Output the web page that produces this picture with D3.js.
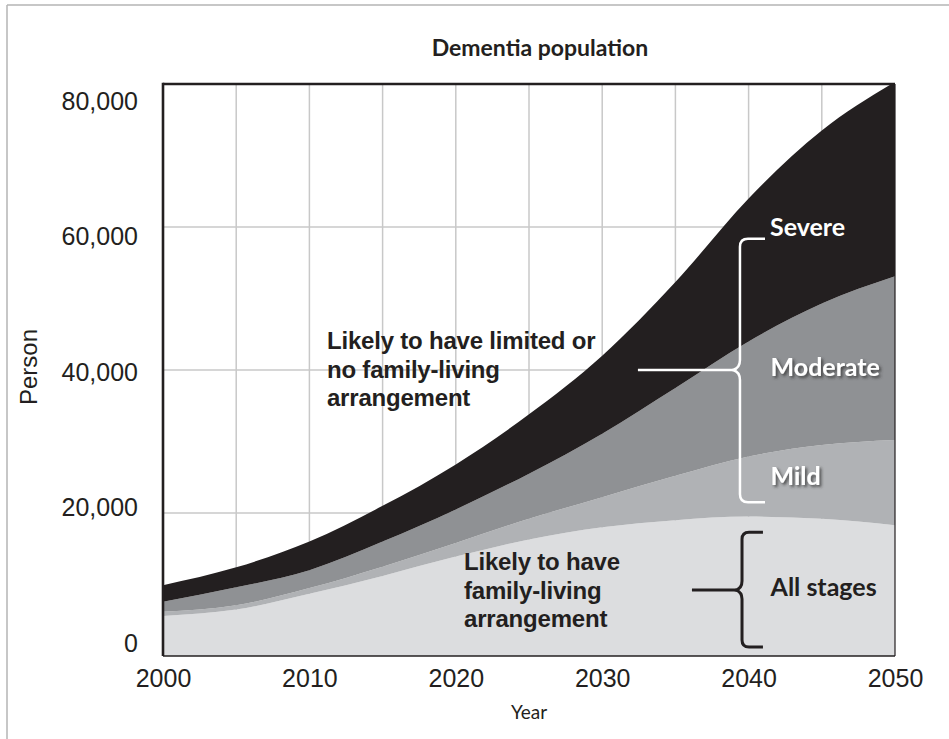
<!DOCTYPE html>
<html><head><meta charset="utf-8">
<script src="https://cdn.jsdelivr.net/npm/d3@7"></script>
<style>
html,body{margin:0;padding:0;background:#fff;}
svg{display:block;}
</style></head>
<body>
<svg id="chart" width="949" height="739"></svg>
<script>
// ---- data ----
const years = [2000, 2005, 2010, 2015, 2020, 2025, 2030, 2035, 2040, 2045, 2050];
const familyAll = [5600, 6500, 8700, 11200, 13900, 16300, 18000, 19000, 19500, 19200, 18300];
const mild      = [600, 600, 800, 1300, 1900, 2900, 4200, 6200, 8400, 10300, 11900];
const moderate  = [1400, 2500, 2500, 3500, 4700, 6300, 8900, 12300, 16100, 19800, 22900];
const severe    = [2300, 2800, 4000, 5000, 6300, 8300, 10900, 14800, 20000, 24200, 27200];
const layerKeys = ["family", "mild", "moderate", "severe"];
const layerColors = {family: "#dcdddf", mild: "#b0b2b5", moderate: "#8f9194", severe: "#231f20"};
const xTickYears = [2000, 2010, 2020, 2030, 2040, 2050];
const xGridYears = [2005, 2010, 2015, 2020, 2025, 2030, 2035, 2040, 2045];
const yTicks = [0, 20000, 40000, 60000, 80000];
const yGrid = [20000, 40000, 60000];

const rows = years.map((yr, i) => ({year: yr, family: familyAll[i], mild: mild[i], moderate: moderate[i], severe: severe[i]}));

const svg = d3.select("#chart");
const L = 163, R = 895, T = 84, B = 656;
const x = d3.scaleLinear().domain([2000, 2050]).range([L, R]);
const y = d3.scaleLinear().domain([0, 80000]).range([B, T]);
// the source places its tick labels on a slightly compressed scale
const yLab = d3.scaleLinear().domain([0, 80000]).range([B - 12.5, T + 17]);

// outer frame lines
svg.append("line").attr("x1", 7).attr("x2", 949).attr("y1", 5).attr("y2", 5).attr("stroke", "#b4b4b4").attr("stroke-width", 1.5);
svg.append("line").attr("x1", 7).attr("x2", 7).attr("y1", 5).attr("y2", 739).attr("stroke", "#b4b4b4").attr("stroke-width", 1.5);

// defs
const defs = svg.append("defs");
const f = defs.append("filter").attr("id", "shadow").attr("x", "-20%").attr("y", "-30%").attr("width", "150%").attr("height", "180%");
f.append("feDropShadow").attr("dx", 2).attr("dy", 2).attr("stdDeviation", 1.5).attr("flood-color", "#333").attr("flood-opacity", 0.8);
defs.append("clipPath").attr("id", "plotclip").append("rect").attr("x", L).attr("y", T).attr("width", R - L).attr("height", B - T);

// grid
const g = svg.append("g");
g.selectAll(".vg").data(xGridYears).join("line")
  .attr("x1", d => x(d)).attr("x2", d => x(d)).attr("y1", T).attr("y2", B)
  .attr("stroke", "#c8c8c8").attr("stroke-width", 1.5);
g.selectAll(".hg").data(yGrid).join("line")
  .attr("x1", L).attr("x2", R).attr("y1", d => y(d)).attr("y2", d => y(d))
  .attr("stroke", "#c8c8c8").attr("stroke-width", 1.5);

// stacked areas
const stack = d3.stack().keys(layerKeys);
const series = stack(rows);
const area = d3.area()
  .x(d => x(d.data.year))
  .y0(d => y(d[0]))
  .y1(d => y(d[1]))
  .curve(d3.curveMonotoneX);
svg.append("g").attr("clip-path", "url(#plotclip)")
  .selectAll("path").data(series).join("path")
  .attr("d", area)
  .attr("fill", d => layerColors[d.key]);

// frame
svg.append("line").attr("x1", L).attr("x2", R).attr("y1", T).attr("y2", T).attr("stroke", "#231f20").attr("stroke-width", 2.6);
svg.append("line").attr("x1", L).attr("x2", L).attr("y1", T - 1.3).attr("y2", B).attr("stroke", "#231f20").attr("stroke-width", 2.6);
svg.append("line").attr("x1", L).attr("x2", R).attr("y1", B).attr("y2", B).attr("stroke", "#231f20").attr("stroke-width", 1.3);
svg.append("line").attr("x1", R).attr("x2", R).attr("y1", T).attr("y2", B).attr("stroke", "#231f20").attr("stroke-width", 1.2);

// axes
const yAxis = svg.append("g").attr("transform", `translate(${L},0)`)
  .call(d3.axisLeft(yLab).tickValues(yTicks).tickFormat(d3.format(",")).tickSize(0).tickPadding(25));
yAxis.select(".domain").remove();
yAxis.selectAll("text").attr("font-family", "'Liberation Sans', Arial, sans-serif").attr("font-size", 25).attr("fill", "#231f20");

const xAxis = svg.append("g").attr("transform", `translate(0,${B})`)
  .call(d3.axisBottom(x).tickValues(xTickYears).tickFormat(d3.format("d")).tickSize(0).tickPadding(13));
xAxis.select(".domain").remove();
xAxis.selectAll("text").attr("font-family", "'Liberation Sans', Arial, sans-serif").attr("font-size", 25).attr("fill", "#231f20");

// titles
svg.append("text").attr("x", 540).attr("y", 56).attr("text-anchor", "middle")
  .attr("font-family", "Lato, 'Open Sans', sans-serif").attr("font-weight", "bold").attr("font-size", 23)
  .attr("fill", "#231f20").text("Dementia population");
svg.append("text").attr("x", 529).attr("y", 719).attr("text-anchor", "middle")
  .attr("font-family", "Lato, 'Open Sans', sans-serif").attr("font-size", 19)
  .attr("fill", "#231f20").text("Year");
svg.append("text").attr("transform", "translate(37,367) rotate(-90)").attr("text-anchor", "middle")
  .attr("font-family", "'Liberation Sans', Arial, sans-serif").attr("font-size", 24)
  .attr("fill", "#231f20").text("Person");

// annotations
function multiline(lines, xp, ybase, step, fill) {
  const t = svg.append("text").attr("font-family", "'Liberation Sans', Arial, sans-serif")
    .attr("font-weight", "bold").attr("font-size", 24).attr("fill", fill).attr("letter-spacing", -0.2);
  lines.forEach((s, i) => t.append("tspan").attr("x", xp).attr("y", ybase + i * step).text(s));
}
multiline(["Likely to have limited or", "no family-living", "arrangement"], x(2011.2), 349, 28.5, "#231f20");
multiline(["Likely to have", "family-living", "arrangement"], x(2020.56), 570, 28.5, "#231f20");

// white brace
const bx = x(2039.41), bArm = x(2041.12), bTip = bx - 7;
const yTop = y(58360), yMid = y(40000), yBot = y(21500);
svg.append("path").attr("d",
  `M${bArm},${yTop} H${bx + 8} Q${bx},${yTop} ${bx},${yTop + 8} V${yMid - 10} Q${bx},${yMid - 2} ${bTip},${yMid} Q${bx},${yMid + 2} ${bx},${yMid + 10} V${yBot - 8} Q${bx},${yBot} ${bx + 8},${yBot} H${bArm}`)
  .attr("fill", "none").attr("stroke", "#fff").attr("stroke-width", 2.5);
svg.append("line").attr("x1", x(2032.44)).attr("x2", bTip).attr("y1", yMid).attr("y2", yMid).attr("stroke", "#fff").attr("stroke-width", 2.5);

// black brace
const kx = x(2039.55), kArm = x(2040.98), kTip = kx - 6;
const kTop = y(17310), kMid = y(9215), kBot = y(1257);
svg.append("path").attr("d",
  `M${kArm},${kTop} H${kx + 7} Q${kx},${kTop} ${kx},${kTop + 7} V${kMid - 9} Q${kx},${kMid - 2} ${kTip},${kMid} Q${kx},${kMid + 2} ${kx},${kMid + 9} V${kBot - 7} Q${kx},${kBot} ${kx + 7},${kBot} H${kArm}`)
  .attr("fill", "none").attr("stroke", "#231f20").attr("stroke-width", 3);
svg.append("line").attr("x1", x(2036.13)).attr("x2", kTip).attr("y1", kMid).attr("y2", kMid).attr("stroke", "#231f20").attr("stroke-width", 3);

// stage labels
function stageLabel(s, yr, val, fill, shadow) {
  const t = svg.append("text").attr("x", x(yr)).attr("y", y(val))
    .attr("font-family", "Lato, 'Open Sans', sans-serif").attr("font-weight", "bold").attr("font-size", 25)
    .attr("fill", fill).text(s);
  if (shadow) t.attr("filter", "url(#shadow)");
}
stageLabel("Severe", 2041.46, 58780, "#fff", false);
stageLabel("Moderate", 2041.5, 39200, "#fff", true);
stageLabel("Mild", 2041.5, 23850, "#fff", true);
stageLabel("All stages", 2041.5, 8380, "#231f20", false);
</script>
</body></html>
